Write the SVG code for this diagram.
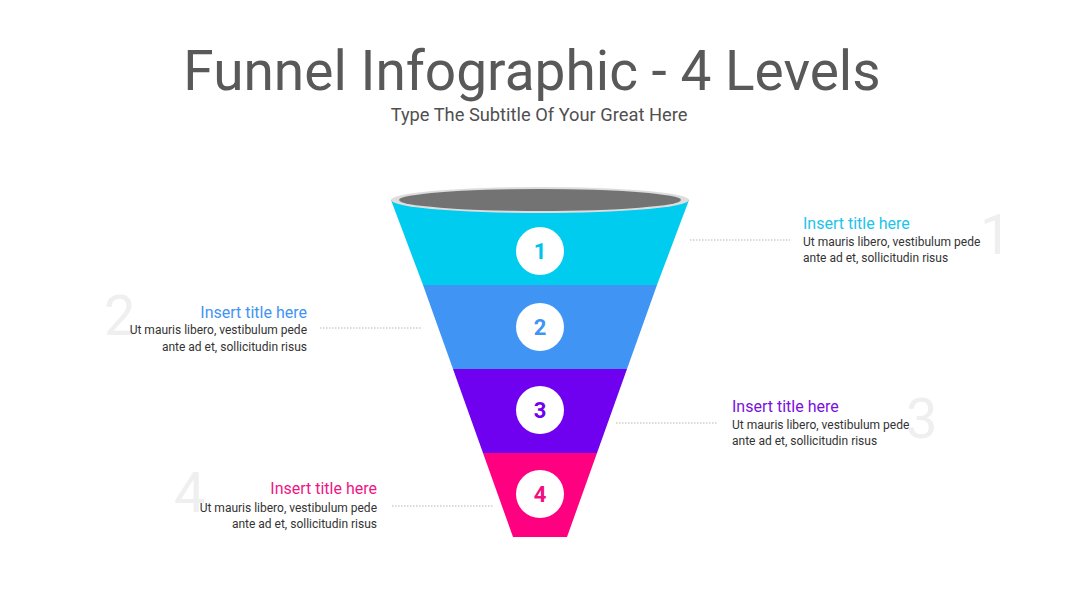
<svg xmlns="http://www.w3.org/2000/svg" width="1080" height="609" viewBox="0 0 1080 609">
<style>
.bg{font-family:Roboto,"Liberation Sans",sans-serif;font-size:56px;fill:#efefef}
.t{font-family:Roboto,"Liberation Sans",sans-serif;font-size:16px}
.b{font-family:Roboto,"Liberation Sans",sans-serif;font-size:12px;fill:#333333}
.num{font-family:Roboto,"Liberation Sans",sans-serif;font-size:22px;font-weight:bold;text-anchor:middle}
.conn{stroke:#b5b5b5;stroke-width:1;stroke-dasharray:1.5 1.5;fill:none}
</style>
<rect width="1080" height="609" fill="#ffffff"/>
<text x="532" y="90" text-anchor="middle" font-family="Roboto,'Liberation Sans',sans-serif" font-size="55" fill="#595959">Funnel Infographic - 4 Levels</text>
<text x="539" y="121" text-anchor="middle" font-family="Roboto,'Liberation Sans',sans-serif" font-size="18.3" fill="#505050">Type The Subtitle Of Your Great Here</text>

<g id="bignums">
<text class="bg" x="980" y="254">1</text>
<text class="bg" x="104" y="335">2</text>
<text class="bg" x="906" y="438">3</text>
<text class="bg" x="174" y="512">4</text>
</g>

<g id="connectors">
<line class="conn" x1="690" y1="240" x2="790" y2="240"/>
<line class="conn" x1="320" y1="328" x2="422" y2="328"/>
<line class="conn" x1="616" y1="423" x2="718" y2="423"/>
<line class="conn" x1="392" y1="506" x2="493" y2="506"/>
</g>

<g id="level1">
<polygon points="391,200 689,200 657,285 423,285" fill="#00CCF0"/>
<ellipse cx="540" cy="200" rx="149" ry="13" fill="#dddddd"/>
<ellipse cx="540" cy="200" rx="141" ry="11" fill="#737373"/>
<circle cx="540" cy="251" r="24" fill="#ffffff"/>
<text class="num" x="540" y="259" fill="#00C4EC">1</text>
<text class="t" x="803" y="229" fill="#1EC3EA">Insert title here</text>
<text class="b" x="803" y="246">Ut mauris libero, vestibulum pede</text>
<text class="b" x="803" y="262">ante ad et, sollicitudin risus</text>
</g>

<g id="level2">
<polygon points="423,285 657,285 627,369 453,369" fill="#3F94F4"/>
<circle cx="540" cy="327" r="24" fill="#ffffff"/>
<text class="num" x="540" y="335" fill="#3F94F4">2</text>
<text class="t" x="307" y="318" text-anchor="end" fill="#3F94F4">Insert title here</text>
<text class="b" x="307" y="334" text-anchor="end">Ut mauris libero, vestibulum pede</text>
<text class="b" x="307" y="351" text-anchor="end">ante ad et, sollicitudin risus</text>
</g>

<g id="level3">
<polygon points="453,369 627,369 597,453 483,453" fill="#7000F0"/>
<circle cx="540" cy="410" r="24" fill="#ffffff"/>
<text class="num" x="540" y="418" fill="#7000F0">3</text>
<text class="t" x="732" y="412" fill="#7A10E0">Insert title here</text>
<text class="b" x="732" y="429">Ut mauris libero, vestibulum pede</text>
<text class="b" x="732" y="445">ante ad et, sollicitudin risus</text>
</g>

<g id="level4">
<polygon points="483,453 597,453 567,537 513,537" fill="#FF0080"/>
<circle cx="540" cy="494" r="24" fill="#ffffff"/>
<text class="num" x="540" y="502" fill="#F0107F">4</text>
<text class="t" x="377" y="494" text-anchor="end" fill="#EE1685">Insert title here</text>
<text class="b" x="377" y="512" text-anchor="end">Ut mauris libero, vestibulum pede</text>
<text class="b" x="377" y="528" text-anchor="end">ante ad et, sollicitudin risus</text>
</g>
</svg>
